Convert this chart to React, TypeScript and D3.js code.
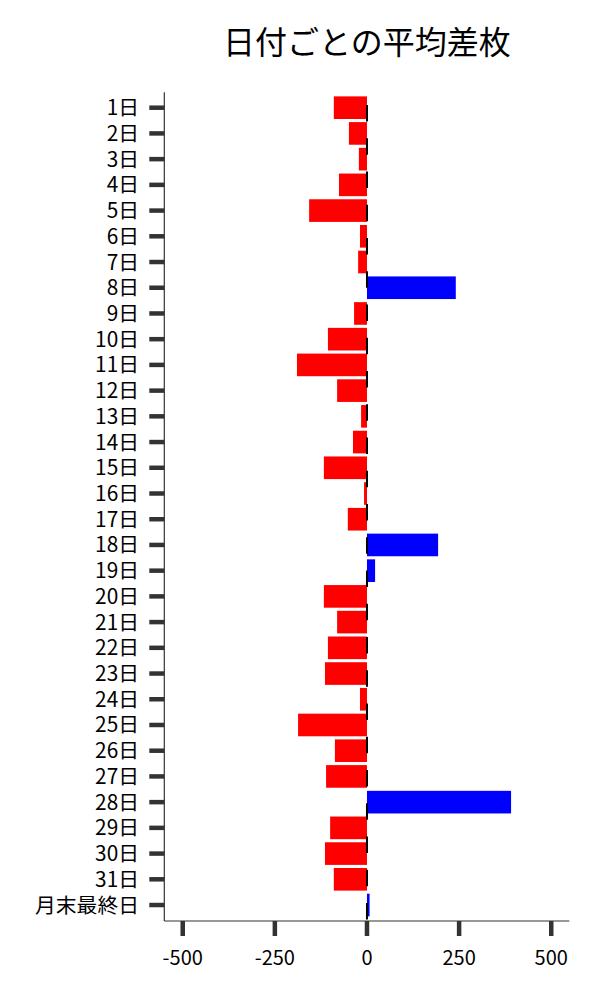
import React from "react";
import * as d3 from "d3";

const categories: string[] = [
  "1日","2日","3日","4日","5日","6日","7日","8日","9日","10日",
  "11日","12日","13日","14日","15日","16日","17日","18日","19日","20日",
  "21日","22日","23日","24日","25日","26日","27日","28日","29日","30日",
  "31日","月末最終日",
];

const avgDiff: number[] = [
  -90, -49, -22, -76, -157, -19, -24, 241, -35, -106,
  -190, -81, -16, -38, -117, -8, -52, 193, 22, -117,
  -81, -106, -114, -19, -187, -87, -111, 391, -100, -114,
  -90, 7,
];

const xTicks: number[] = [-500, -250, 0, 250, 500];
const title = "日付ごとの平均差枚";

const FONT = "'Noto Sans CJK JP', 'Noto Sans', sans-serif";

export default function App() {
  const W = 600;
  const H = 1000;
  const left = 164.3;
  const right = 569.3;
  const top = 92.3;
  const bottom = 921;

  const x = d3.scaleLinear().domain([-550, 549]).range([left, right]);
  const step = 25.72;
  const y = d3
    .scaleBand<string>()
    .domain(categories)
    .range([107.7 - step / 2, 107.7 - step / 2 + step * categories.length])
    .paddingInner(0.12)
    .paddingOuter(0.06);

  const x0 = x(0);
  const tickColor = "#333333";

  return (
    <svg
      width={W}
      height={H}
      style={{ position: "absolute", left: 0, top: 0, background: "#fff" }}
    >
      <text
        x={(left + right) / 2}
        y={54}
        textAnchor="middle"
        fontFamily={FONT}
        fontSize={32}
        fill="#000"
      >
        {title}
      </text>

      {categories.map((c, i) => {
        const v = avgDiff[i];
        const yy = y(c)!;
        return (
          <rect
            key={c}
            x={Math.min(x(v), x0)}
            y={yy}
            width={Math.abs(x(v) - x0)}
            height={y.bandwidth()}
            fill={v < 0 ? "#ff0000" : "#0000ff"}
          />
        );
      })}

      <line
        x1={x0}
        x2={x0}
        y1={top}
        y2={bottom}
        stroke="#000"
        strokeWidth={2}
        strokeDasharray="16.5 16.75"
        strokeDashoffset={20.55}
      />

      {/* spines */}
      <line x1={left} x2={left} y1={top} y2={bottom} stroke={tickColor} strokeWidth={1.2} />
      <line x1={left} x2={right} y1={bottom} y2={bottom} stroke={tickColor} strokeWidth={1.2} />

      {/* y ticks */}
      {categories.map((c) => {
        const cy = y(c)! + y.bandwidth() / 2;
        return (
          <g key={"yt" + c}>
            <line x1={left - 15} x2={left} y1={cy} y2={cy} stroke={tickColor} strokeWidth={4.5} />
            <text
              x={139}
              y={cy}
              dy="0.36em"
              textAnchor="end"
              fontFamily={FONT}
              fontSize={20.8}
              fill="#000"
            >
              {c}
            </text>
          </g>
        );
      })}

      {/* x ticks */}
      {xTicks.map((t) => (
        <g key={"xt" + t}>
          <line x1={x(t)} x2={x(t)} y1={bottom} y2={bottom + 15} stroke={tickColor} strokeWidth={4.5} />
          <text
            x={x(t)}
            y={965}
            textAnchor="middle"
            fontFamily={FONT}
            fontSize={20}
            fill="#000"
          >
            {t}
          </text>
        </g>
      ))}
    </svg>
  );
}
